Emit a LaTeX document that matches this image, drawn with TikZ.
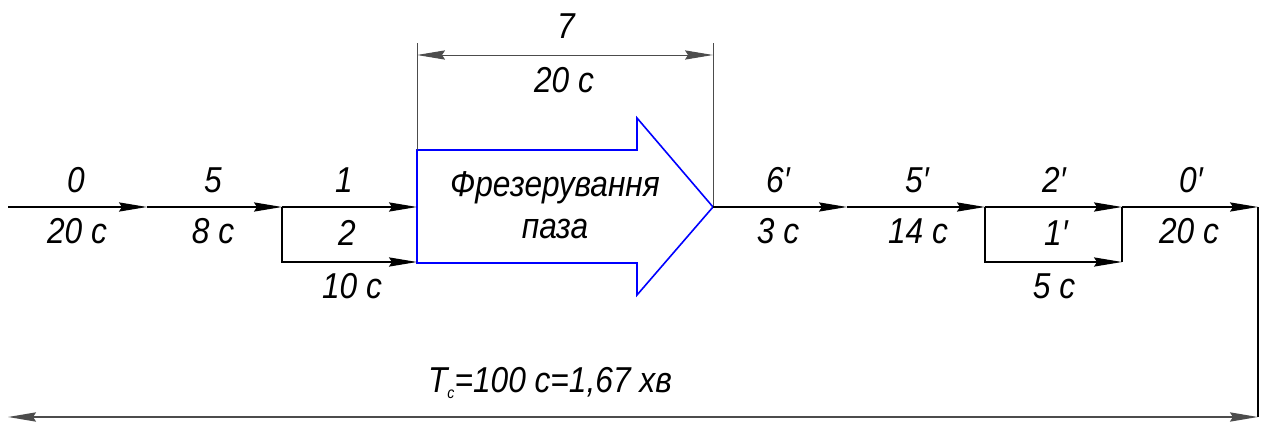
\documentclass[tikz,border=0pt]{standalone}
\usepackage{fontspec}
\setmainfont{Liberation Sans}[FakeStretch=0.88]
\usetikzlibrary{arrows.meta}

\tikzset{
  flow/.style={line width=0.6pt, -{Stealth[length=14pt, width=4.6pt, inset=1.5pt]}},
  dimline/.style={gray!60!black, line width=0.5pt},
  lbl/.style={font=\fontsize{18}{21}\selectfont\itshape, inner sep=0pt},
  block/.style={blue, line width=0.8pt}
}

\begin{document}
\begin{tikzpicture}[x=0.5pt, y=-0.5pt, >={Stealth[length=14pt, width=4.6pt, inset=1.5pt]}]

  \useasboundingbox (0,0) rectangle (1265,423);

  % Coordinates of the main line
  \coordinate (s0) at (8,207);
  \coordinate (e0) at (147,207);
  \coordinate (e5) at (282,207);
  \coordinate (b1) at (417,207);
  \coordinate (b2) at (417,262);
  \coordinate (tip) at (713,207);
  \coordinate (e6) at (847,207);
  \coordinate (e5p) at (985,207);
  \coordinate (e2p) at (1122,207);
  \coordinate (e1p) at (1122,262);
  \coordinate (fin) at (1258,207);
  \coordinate (finb) at (1258,417);
  \coordinate (startb) at (8,417);

  % Block arrow (milling)
  \draw[block] (417,150) -- (637,150) -- (637,118) -- (tip) -- (637,295) -- (637,263) -- (417,263) -- cycle;
  \node[lbl, align=center] (mill) at (555,205) {Фрезерування\\паза};

  % Dimension above the block
  \coordinate (d1) at (417,55);
  \coordinate (d2) at (713,55);
  \draw[dimline] (417,43) -- (417,150);
  \draw[dimline] (713,43) -- (tip);
  \draw[dimline, <->] (d1) -- (d2);
  \node[lbl] (n7) at (566,26) {7};
  \node[lbl] (t7) at (564,80) {20 с};

  % Left part
  \draw[flow] (s0) -- (e0);
  \draw[flow] (e0) -- (e5);
  \draw[flow] (e5) -- (b1);
  \draw[flow] (e5) |- (b2);
  \node[lbl] (n0) at (76,180) {0};
  \node[lbl] (t0) at (77,231) {20 с};
  \node[lbl] (n5) at (213,180) {5};
  \node[lbl] (t5) at (213,231) {8 с};
  \node[lbl] (n1) at (344,180) {1};
  \node[lbl] (n2) at (347,233) {2};
  \node[lbl] (t2) at (352,286) {10 с};

  % Right part
  \draw[flow] (tip) -- (e6);
  \draw[flow] (e6) -- (e5p);
  \draw[flow] (e5p) -- (e2p);
  \draw[flow] (e5p) |- (e1p);
  \draw[line width=0.6pt] (e1p) -- (e2p);
  \draw[flow] (e2p) -- (fin);
  \draw[line width=0.6pt] (fin) -- (finb);
  \node[lbl] (n6p) at (778,180) {6′};
  \node[lbl] (t6p) at (778,231) {3 с};
  \node[lbl] (n5p) at (917,180) {5′};
  \node[lbl] (t5p) at (918,231) {14 с};
  \node[lbl] (n2p) at (1054,180) {2′};
  \node[lbl] (n1p) at (1056,233) {1′};
  \node[lbl] (t1p) at (1054,286) {5 с};
  \node[lbl] (n0p) at (1191,180) {0′};
  \node[lbl] (t0p) at (1189,231) {20 с};

  % Total time
  \draw[dimline, line width=0.9pt, <->] (startb) -- (finb);
  \node[lbl] (tot) at (550,383) {T\raisebox{-0.35ex}{\fontsize{8}{8}\selectfont с}=100 с=1,67 хв};

\end{tikzpicture}
\end{document}
